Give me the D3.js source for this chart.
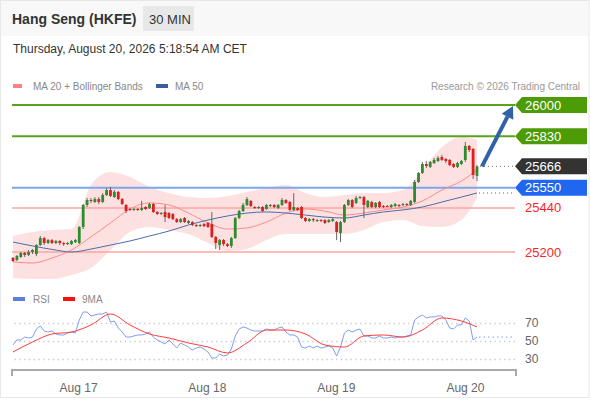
<!DOCTYPE html>
<html>
<head>
<meta charset="utf-8">
<script src="https://cdn.jsdelivr.net/npm/d3@7"></script>
<style>
  body { margin: 0; background: #fff; }
  svg { font-family: "Liberation Sans", Arial, sans-serif; display: block; }
</style>
</head>
<body>
<div id="chart"></div>
<script>
const WIDTH = 590, HEIGHT = 400,
    PLOT_LEFT = 12,
    LINE_END = 515;

// 30 min candles: [open, high, low, close]
const candles = [
    [25168,25173,25146,25151],[25157,25184,25151,25178],[25173,25200,25168,25195],[25195,25200,25173,25184],
    [25184,25211,25178,25200],[25200,25216,25189,25211],[25189,25243,25178,25238],[25238,25287,25233,25276],
    [25276,25282,25238,25249],[25249,25271,25243,25265],[25265,25271,25243,25249],[25249,25265,25243,25260],
    [25260,25265,25238,25249],[25249,25254,25233,25243],[25243,25254,25238,25249],[25243,25265,25238,25260],
    [25254,25271,25249,25265],[25249,25341,25243,25336],[25336,25461,25325,25456],[25456,25494,25445,25483],
    [25483,25494,25467,25478],[25472,25499,25467,25488],[25488,25499,25461,25472],[25472,25521,25467,25510],
    [25510,25548,25505,25537],[25537,25554,25499,25505],[25499,25537,25494,25527],[25527,25532,25483,25488],
    [25488,25494,25456,25461],[25456,25461,25412,25423],[25434,25439,25423,25429],[25429,25439,25423,25434],
    [25434,25439,25423,25429],[25429,25478,25423,25439],[25445,25450,25429,25434],[25439,25467,25434,25461],
    [25461,25467,25412,25418],[25418,25423,25401,25407],[25407,25418,25401,25412],[25418,25456,25363,25390],
    [25412,25418,25379,25385],[25407,25412,25374,25379],[25379,25385,25358,25363],[25363,25385,25358,25379],
    [25385,25390,25358,25363],[25358,25374,25352,25369],[25363,25369,25341,25347],[25347,25352,25336,25341],
    [25341,25352,25336,25347],[25352,25358,25336,25341],[25358,25363,25331,25336],[25352,25418,25276,25282],
    [25282,25287,25216,25249],[25238,25271,25211,25265],[25265,25271,25233,25243],[25243,25249,25227,25233],
    [25233,25282,25222,25276],[25276,25390,25271,25385],[25385,25429,25379,25423],[25423,25467,25418,25456],
    [25456,25499,25450,25488],[25478,25483,25445,25450],[25445,25450,25434,25439],[25439,25450,25434,25445],
    [25445,25450,25418,25423],[25434,25461,25429,25456],[25450,25461,25445,25456],[25456,25461,25439,25445],
    [25439,25461,25434,25456],[25456,25494,25450,25483],[25483,25488,25461,25467],[25472,25478,25423,25429],
    [25429,25521,25423,25445],[25439,25445,25423,25429],[25445,25450,25379,25385],[25385,25390,25363,25369],
    [25369,25385,25363,25379],[25379,25385,25363,25374],[25369,25379,25363,25374],[25374,25379,25363,25369],
    [25374,25379,25352,25358],[25363,25379,25358,25374],[25369,25385,25363,25379],[25363,25369,25265,25309],
    [25303,25369,25254,25363],[25363,25461,25358,25456],[25456,25488,25450,25483],[25483,25488,25439,25445],
    [25467,25505,25461,25494],[25494,25505,25488,25499],[25499,25505,25385,25456],[25445,25483,25439,25478],
    [25472,25478,25439,25445],[25445,25472,25439,25467],[25472,25478,25439,25445],[25450,25456,25439,25445],
    [25450,25456,25445,25448],[25445,25461,25439,25456],[25450,25467,25445,25461],[25456,25461,25445,25450],
    [25456,25467,25450,25461],[25461,25467,25450,25456],[25456,25483,25450,25478],[25472,25592,25467,25581],
    [25581,25635,25576,25630],[25630,25690,25625,25679],[25679,25695,25657,25668],[25663,25695,25657,25690],
    [25684,25712,25679,25701],[25695,25722,25690,25712],[25717,25728,25695,25701],[25706,25712,25684,25695],
    [25701,25706,25668,25673],[25679,25684,25657,25663],[25663,25690,25657,25684],[25679,25701,25673,25695],
    [25701,25799,25690,25777],[25777,25782,25744,25755],[25761,25766,25597,25619],[25614,25673,25586,25666]
];

// indicator readings, taken every 5 candles
const maIdx = [0,5,10,15,20,25,30,35,40,45,50,55,60,65,70,75,80,85,90,95,100,105,110,115,119];
const ma20 = [25146,25140,25167,25211,25282,25358,25434,25467,25456,25412,25358,25325,25331,25363,25412,25434,25423,25401,25412,25429,25445,25478,25537,25586,25646];
const ma50 = [25254,25233,25214,25200,25216,25238,25260,25287,25314,25347,25374,25396,25412,25418,25412,25401,25390,25385,25401,25418,25429,25445,25472,25499,25521];
const bbUpper = [25287,25309,25320,25325,25565,25635,25608,25554,25521,25499,25494,25505,25527,25548,25565,25521,25499,25510,25521,25521,25537,25646,25771,25826,25810];
const bbLower = [25059,25053,25053,25075,25113,25211,25309,25336,25320,25298,25249,25205,25216,25265,25298,25298,25298,25298,25320,25363,25374,25341,25336,25374,25494];

const rsi = [
    45.6,51.1,51.1,54.4,53.3,54.4,63.3,66.7,61.1,60,
    61.1,57.8,56.7,56.7,58.9,60,58.9,73.3,82.2,82.2,
    77.8,78.9,80,80,82.2,71.1,72.2,64.4,60,54.4,
    54.4,55.6,56.7,56.7,57.8,60,54.4,51.1,48.9,46.7,
    51.1,46.7,42.2,47.8,45.6,43.3,40,42.2,43.3,41.1,
    37.8,31.1,31.1,35.6,33.3,34.4,41.1,55.6,63.3,65.6,
    64.4,62.2,61.1,61.1,61.1,63.3,62.2,62.2,64.4,65.6,
    60,56.7,56.7,54.4,43.3,42.2,44.4,42.2,44.4,42.2,
    43.3,44.4,42.2,33.3,43.3,58.9,62.2,60,62.2,63.3,
    55.6,55.6,53.3,53.3,55.6,53.3,53.3,54.4,53.3,54.4,
    54.4,55.6,56.7,73.3,76.7,78.9,75.6,76.7,76.7,77.8,
    77.8,73.3,64.4,63.3,67.8,67.8,75.6,72.2,51.1,54.4
];
const rsiMa = [37.8,48.9,57.8,60,67.8,80,67.8,57.8,53.3,47.8,43.3,36.7,47.8,62.2,62.2,57.8,45.6,43.3,55.6,56.7,54.4,62.2,75.6,72.2,65.6];

const resistances = [26000, 25830];
const lastPrice = 25666;
const pivot = 25550;
const supports = [25440, 25200];
const target = 26000;

const rsiTicks = [70, 50, 30];
const dayTicks = [16.7, 49.7, 82.8, 115.9];
const dayLabels = ['Aug 17', 'Aug 18', 'Aug 19', 'Aug 20'];

const svg = d3.select('#chart').append('svg')
    .attr('width', WIDTH)
    .attr('height', HEIGHT);

var x = d3.scaleLinear().domain([0, candles.length - 1]).range([13, 477]);
var y = d3.scaleLinear().domain([25200, 26000]).range([252, 105]);
var yR = d3.scaleLinear().domain([30, 70]).range([359, 323]);

// frame + header
svg.append('rect').attr('x', 0.5).attr('y', 0.5).attr('width', WIDTH - 1.5).attr('height', 397)
    .attr('fill', '#fff').attr('stroke', '#e8e8e8');
svg.append('rect').attr('x', 1).attr('y', 1).attr('width', WIDTH - 3).attr('height', 35).attr('fill', '#f8f8f8');
svg.append('text').attr('x', 12).attr('y', 24).text('Hang Seng (HKFE)')
    .attr('font-size', 14).attr('font-weight', 'bold').attr('fill', '#333');
svg.append('rect').attr('x', 143).attr('y', 6).attr('width', 51).attr('height', 25).attr('fill', '#e8e8e8');
svg.append('text').attr('x', 149).attr('y', 24).text('30 MIN').attr('font-size', 13).attr('fill', '#333');
svg.append('text').attr('x', 13).attr('y', 53).text('Thursday, August 20, 2026 5:18:54 AM CET')
    .attr('font-size', 12).attr('fill', '#333');

// legend
svg.append('rect').attr('x', 13).attr('y', 84).attr('width', 9).attr('height', 4).attr('fill', '#ff8080');
svg.append('text').attr('x', 33).attr('y', 90).text('MA 20 + Bollinger Bands').attr('font-size', 10).attr('fill', '#888');
svg.append('rect').attr('x', 156).attr('y', 84).attr('width', 12).attr('height', 4).attr('fill', '#3a5f9f');
svg.append('text').attr('x', 175).attr('y', 90).text('MA 50').attr('font-size', 10).attr('fill', '#888');
svg.append('text').attr('x', 580).attr('y', 90).attr('text-anchor', 'end')
    .text('Research \u00a9 2026 Trading Central').attr('font-size', 10).attr('fill', '#999');

// bollinger band
var band = d3.area()
    .x((d, i) => x(maIdx[i]))
    .y0((d, i) => y(bbLower[i]))
    .y1((d, i) => y(bbUpper[i]))
    .curve(d3.curveMonotoneX);
svg.append('path').attr('d', band(maIdx)).attr('fill', '#fde1e1');

// level lines
var hline = (v, color, w) => svg.append('line')
    .attr('x1', PLOT_LEFT).attr('x2', LINE_END)
    .attr('y1', y(v)).attr('y2', y(v))
    .attr('stroke', color).attr('stroke-width', w);

resistances.forEach(v => hline(v, '#5aa21e', 2));
hline(pivot, '#7aa6f2', 2);
supports.forEach(v => hline(v, '#ffa3a3', 1.5));

// moving averages
var maLine = (vals) => d3.line()
    .x((d, i) => x(maIdx[i]))
    .y((d, i) => y(vals[i]))
    .curve(d3.curveMonotoneX)(maIdx);
svg.append('path').attr('d', maLine(ma20)).attr('fill', 'none').attr('stroke', '#ff8a8a').attr('stroke-width', 1);
svg.append('path').attr('d', maLine(ma50)).attr('fill', 'none').attr('stroke', '#4a6cab').attr('stroke-width', 1);

// dotted leaders from the last bar
var last = candles.length - 1;
svg.append('line').attr('x1', x(last) + 3).attr('x2', LINE_END).attr('y1', y(lastPrice)).attr('y2', y(lastPrice))
    .attr('stroke', '#777').attr('stroke-dasharray', '1,3');
svg.append('line').attr('x1', x(last) + 2).attr('x2', LINE_END)
    .attr('y1', y(ma50[ma50.length - 1])).attr('y2', y(ma50[ma50.length - 1]))
    .attr('stroke', '#4a6cab').attr('stroke-dasharray', '1,3');

// candles
var cg = svg.append('g');
cg.selectAll('line').data(candles).enter().append('line')
    .attr('x1', (d, i) => x(i)).attr('x2', (d, i) => x(i))
    .attr('y1', d => y(d[1])).attr('y2', d => y(d[2]))
    .attr('stroke', '#666').attr('stroke-width', 1);
cg.selectAll('rect').data(candles).enter().append('rect')
    .attr('x', (d, i) => x(i) - 1.4)
    .attr('width', 2.8)
    .attr('y', d => y(Math.max(d[0], d[3])))
    .attr('height', d => Math.max(1, Math.abs(y(d[0]) - y(d[3]))))
    .attr('fill', d => d[3] >= d[0] ? '#2e8b2e' : '#dd1f1f');

// target arrow
var sx = x(last) + 5, sy = y(lastPrice),
    ex = LINE_END - 2, ey = y(target) + 1;
var ang = Math.atan2(ey - sy, ex - sx), hl = 12, hw = 6.5;
var bx = ex - hl * Math.cos(ang), by = ey - hl * Math.sin(ang);
svg.append('line').attr('x1', sx).attr('y1', sy).attr('x2', bx).attr('y2', by)
    .attr('stroke', '#2f62a6').attr('stroke-width', 4);
svg.append('path').attr('fill', '#2f62a6')
    .attr('d', 'M' + ex + ',' + ey +
        'L' + (bx + hw * Math.sin(ang)) + ',' + (by - hw * Math.cos(ang)) +
        'L' + (bx - hw * Math.sin(ang)) + ',' + (by + hw * Math.cos(ang)) + 'Z');

// right-hand tags
var tag = (v, color) => {
    var yc = y(v), x0 = LINE_END, x1 = 587;
    svg.append('path').attr('fill', color)
        .attr('d', 'M' + x0 + ',' + yc + 'L' + (x0 + 7) + ',' + (yc - 8) + 'L' + x1 + ',' + (yc - 8) +
            'L' + x1 + ',' + (yc + 8) + 'L' + (x0 + 7) + ',' + (yc + 8) + 'Z');
    svg.append('text').attr('x', x0 + 10).attr('y', yc + 4.5).text(v)
        .attr('font-size', 13).attr('fill', '#fff');
};
resistances.forEach(v => tag(v, '#4d9b06'));
tag(lastPrice, '#333');
tag(pivot, '#1f66f0');
supports.forEach(v => svg.append('text').attr('x', 525).attr('y', y(v) + 4.5).text(v)
    .attr('font-size', 13).attr('fill', '#ff1f1f'));

// RSI panel legend
svg.append('rect').attr('x', 13).attr('y', 297).attr('width', 12).attr('height', 4).attr('fill', '#5b7fe0');
svg.append('text').attr('x', 33).attr('y', 303).text('RSI').attr('font-size', 10).attr('fill', '#888');
svg.append('rect').attr('x', 63).attr('y', 297).attr('width', 12).attr('height', 4).attr('fill', '#ff1010');
svg.append('text').attr('x', 82).attr('y', 303).text('9MA').attr('font-size', 10).attr('fill', '#888');

// RSI grid
var rAxis = d3.axisRight(yR).tickValues(rsiTicks).tickSize(-(LINE_END - PLOT_LEFT)).tickPadding(10);
var rg = svg.append('g').attr('transform', 'translate(' + LINE_END + ',0)').call(rAxis);
rg.select('.domain').remove();
rg.selectAll('.tick line').attr('stroke', '#c8c8c8').attr('stroke-width', 1.3).attr('stroke-dasharray', '1.3,3.5');
rg.selectAll('.tick text').attr('font-size', 12).attr('fill', '#666').attr('font-family', '"Liberation Sans", Arial, sans-serif');

var rsiLine = d3.line().x((d, i) => x(i)).y(d => yR(d));
svg.append('path').attr('d', rsiLine(rsi)).attr('fill', 'none').attr('stroke', '#7d9ef0').attr('stroke-width', 1);
var rsiMaLine = d3.line().x((d, i) => x(maIdx[i])).y(d => yR(d)).curve(d3.curveMonotoneX);
svg.append('path').attr('d', rsiMaLine(rsiMa)).attr('fill', 'none').attr('stroke', '#ff3b3b').attr('stroke-width', 1);
svg.append('line').attr('x1', x(last) + 2).attr('x2', LINE_END)
    .attr('y1', yR(rsi[last])).attr('y2', yR(rsi[last]))
    .attr('stroke', '#7d9ef0').attr('stroke-dasharray', '1.5,3');

// time axis
svg.append('path').attr('d', 'M' + PLOT_LEFT + ',376V370H' + (LINE_END + 1) + 'V376')
    .attr('fill', 'none').attr('stroke', '#aaa').attr('stroke-width', 2);
var xAxis = d3.axisBottom(x).tickValues(dayTicks).tickFormat((d, i) => dayLabels[i]).tickSize(0).tickPadding(8);
var xg = svg.append('g').attr('transform', 'translate(0,375)').call(xAxis);
xg.select('.domain').remove();
xg.selectAll('.tick text').attr('font-size', 12).attr('fill', '#666').attr('font-family', '"Liberation Sans", Arial, sans-serif');
</script>
</body>
</html>
